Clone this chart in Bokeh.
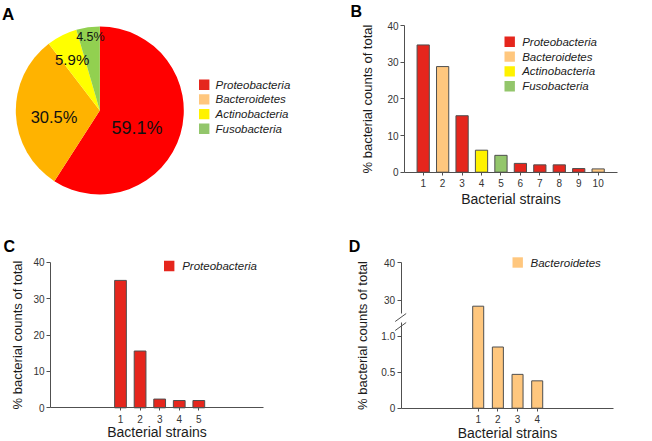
import math
from bokeh.plotting import figure
from bokeh.models import Range1d, FixedTicker, CustomJSTickFormatter, ColumnDataSource, LinearAxis
from bokeh.layouts import gridplot
from bokeh.embed import file_html
from bokeh.resources import INLINE
from bokeh.core.properties import value

FONT = "Liberation Sans"
TEXT = "#1c1c1c"
AXIS = "#505050"
TICKTXT = "#333333"
BAR_LINE = "#4f4f4f"

# ---------------- data ----------------
phyla = ["Proteobacteria", "Bacteroidetes", "Actinobacteria", "Fusobacteria"]
phylum_pct = [59.1, 30.5, 5.9, 4.5]
pie_labels = ["59.1%", "30.5%", "5.9%", "4.5%"]

top10_strains = [1, 2, 3, 4, 5, 6, 7, 8, 9, 10]
top10_pct = [34.7, 28.8, 15.4, 6.0, 4.6, 2.4, 2.0, 2.0, 1.0, 0.9]
top10_phylum = ["Proteobacteria", "Bacteroidetes", "Proteobacteria", "Actinobacteria",
                "Fusobacteria", "Proteobacteria", "Proteobacteria", "Proteobacteria",
                "Proteobacteria", "Bacteroidetes"]

proteo_strains = [1, 2, 3, 4, 5]
proteo_pct = [35.0, 15.6, 2.4, 2.0, 2.0]

bactero_strains = [1, 2, 3, 4]
bactero_pct = [28.4, 0.85, 0.47, 0.38]

yticks_main = [0, 10, 20, 30, 40]
yticks_low = [0, 0.5, 1.0]
yticks_low_labels = ["0", "0.5", "1.0"]
yticks_high = [30, 40]
yticks_high_labels = ["30", "40"]

ylabel = "% bacterial counts of total"
xlabel = "Bacterial strains"

# ---------------- styles ----------------
pie_colors = ["#FF0000", "#FFB300", "#FFFF00", "#92D050"]
key_colors = ["#E5261D", "#FFC77E", "#FFF200", "#93C66B"]
phylum_color = dict(zip(phyla, key_colors))
pie_label_sizes = ["18px", "16.5px", "15px", "12.5px"]
pie_label_rfrac = [0.49, 0.55, 0.69, 0.88]
pie_label_nudge_deg = [-9.0, 5.6, 1.7, -0.8]


def new_fig(W, H, xr, yr, axes=True):
    kw = {}
    if not axes:
        kw = dict(x_axis_type=None, y_axis_type=None)
    p = figure(width=W, height=H, x_range=xr, y_range=yr, output_backend="svg",
               toolbar_location=None, tools="", **kw)
    p.min_border_left = p.min_border_right = p.min_border_top = p.min_border_bottom = 0
    p.outline_line_color = None
    p.background_fill_color = "white"
    p.border_fill_color = "white"
    if axes:
        p.xgrid.visible = False
        p.ygrid.visible = False
    p.extra_x_ranges = {"px": Range1d(0, W)}
    p.extra_y_ranges = {"px": Range1d(H, 0)}
    return p


def style_axis(ax):
    ax.axis_line_color = AXIS
    ax.axis_line_width = 1
    ax.major_tick_line_color = AXIS
    ax.major_tick_in = 0
    ax.minor_tick_line_color = None
    ax.major_label_text_font = FONT
    ax.major_label_text_font_size = "10px"
    ax.major_label_text_color = TICKTXT
    ax.axis_label_text_font = FONT
    ax.axis_label_text_font_style = "normal"
    ax.axis_label_text_color = TEXT


def letter(p, s, x, y, size="16px"):
    p.text(x=[x], y=[y], text=[s], x_range_name="px", y_range_name="px",
           text_font=value(FONT), text_font_style="bold", text_font_size=size,
           text_color="#000000", text_baseline="alphabetic", text_align="left")


def legend(p, names, colors, sx, sy, pitch, text_x, sq=10.4, size="11.5px"):
    ys = [sy + i * pitch for i in range(len(names))]
    p.rect(x=[sx] * len(names), y=ys, width=sq, height=sq, fill_color=colors,
           line_color=None, x_range_name="px", y_range_name="px")
    p.text(x=[text_x] * len(names), y=ys, text=names, x_range_name="px", y_range_name="px",
           text_font=value(FONT), text_font_style="italic", text_font_size=size,
           text_color=TEXT, text_baseline="middle", text_align="left")


# ---------------- panel A: pie ----------------
WA, HA = 330, 210
pA = new_fig(WA, HA, Range1d(0, WA), Range1d(0, HA), axes=False)
cx, cy, R = 99.3, HA - 110.0, 84.0
tot = sum(phylum_pct)
starts, ends, lx, ly = [], [], [], []
cum = 0.0
for i, v in enumerate(phylum_pct):
    a0 = math.pi / 2 - 2 * math.pi * cum / tot
    cum += v
    a1 = math.pi / 2 - 2 * math.pi * cum / tot
    starts.append(a0)
    ends.append(a1)
    mid = (a0 + a1) / 2 + math.radians(pie_label_nudge_deg[i])
    lx.append(cx + pie_label_rfrac[i] * R * math.cos(mid))
    ly.append(cy + pie_label_rfrac[i] * R * math.sin(mid))
pie_src = ColumnDataSource(dict(start=starts, end=ends, color=pie_colors, lx=lx, ly=ly,
                                label=pie_labels, fs=pie_label_sizes))
pA.wedge(x=cx, y=cy, radius=R, radius_units="screen", start_angle="start", end_angle="end",
         direction="clock", fill_color="color", line_color=None, source=pie_src)
pA.text(x="lx", y="ly", text="label", text_font_size="fs", source=pie_src,
        text_font=value(FONT), text_color="#111111", text_align="center", text_baseline="middle")
legend(pA, phyla, key_colors, 203.7, 84.2, 14.7, 215.0)
letter(pA, "A", 1.5, 14.0, "17px")


# ---------------- bar panel helper ----------------
def bar_panel(W, H, g, strains, vals, colors, bar_w, xlab_standoff=0, ylab_standoff=9):
    xs = 1 - g["x1"] / g["xu"]
    xe = xs + W / g["xu"]
    ys = -(H - g["y0"]) / g["yu"]
    ye = g["y0"] / g["yu"]
    p = new_fig(W, H, Range1d(xs, xe), Range1d(ys, ye))
    ax_x = xs + g["axis_x"] / g["xu"]
    ax_end = xs + g["axis_x_end"] / g["xu"]
    src = ColumnDataSource(dict(x=strains, top=vals, color=colors))
    p.vbar(x="x", top="top", bottom=0, width=bar_w, fill_color="color",
           line_color=BAR_LINE, line_width=1, source=src)
    xa = p.xaxis[0]
    style_axis(xa)
    xa.fixed_location = 0
    xa.bounds = (ax_x, ax_end)
    xa.ticker = FixedTicker(ticks=strains)
    xa.major_tick_out = 3
    xa.major_label_standoff = 4
    xa.axis_label = xlabel
    xa.axis_label_text_font_size = "14px"
    xa.axis_label_standoff = xlab_standoff
    ya = p.yaxis[0]
    style_axis(ya)
    ya.fixed_location = ax_x
    ya.major_tick_out = 4
    ya.major_label_standoff = 2
    ya.axis_label = ylabel
    ya.axis_label_text_font_size = "13px"
    ya.axis_label_standoff = ylab_standoff
    return p, ya, ax_x


# ---------------- panel B ----------------
GB = dict(x1=92.7, xu=19.44, y0=171.7, yu=3.6675, axis_x=74.0, axis_x_end=287.3)
pB, yaB, _ = bar_panel(322, 210, GB, top10_strains, top10_pct,
                       [phylum_color[k] for k in top10_phylum], 0.63, xlab_standoff=0)
yaB.ticker = FixedTicker(ticks=yticks_main)
yaB.bounds = (0, 40)
legend(pB, phyla, key_colors, 179.2, 41.3, 14.8, 191.7)
letter(pB, "B", 20.0, 11.0)

# ---------------- panel C ----------------
GC = dict(x1=120.0, xu=19.58, y0=197.3, yu=3.64, axis_x=50.0, axis_x_end=262.7)
pC, yaC, _ = bar_panel(330, 231, GC, proteo_strains, proteo_pct,
                       [phylum_color["Proteobacteria"]] * len(proteo_pct), 0.6,
                       xlab_standoff=-2, ylab_standoff=5)
yaC.ticker = FixedTicker(ticks=yticks_main)
yaC.bounds = (0, 40)
legend(pC, ["Proteobacteria"], [phylum_color["Proteobacteria"]], 168.7, 55.5, 14.8, 181.7)
letter(pC, "C", 3.0, 35.5)

# ---------------- panel D (broken axis) ----------------
LOW_MAX = 1.2
HIGH_BASE = 1.5
HIGH_SCALE = 0.052


def d_disp(v):
    return v if v <= LOW_MAX else HIGH_BASE + (v - 30) * HIGH_SCALE


GD = dict(x1=147.7, xu=19.67, y0=197.7, yu=72.0, axis_x=70.7, axis_x_end=283.3)
pD, yaD, axD = bar_panel(322, 231, GD, bactero_strains, [d_disp(v) for v in bactero_pct],
                         [phylum_color["Bacteroidetes"]] * len(bactero_pct), 0.56,
                         xlab_standoff=-2, ylab_standoff=9)
d_tick_pos = [d_disp(v) for v in yticks_low] + [d_disp(v) for v in yticks_high]
d_tick_lab = yticks_low_labels + yticks_high_labels
yaD.ticker = FixedTicker(ticks=d_tick_pos)
yaD.formatter = CustomJSTickFormatter(args=dict(pos=d_tick_pos, lab=d_tick_lab), code="""
    const i = pos.indexOf(tick);
    return i >= 0 ? lab[i] : "";
""")
yaD.bounds = (0, d_tick_pos[-1])
yaD.axis_line_color = None

low_top = (GD["y0"] - 112.0) / GD["yu"]
high_bot = (GD["y0"] - 103.0) / GD["yu"]
for b in [(0, low_top), (high_bot, d_tick_pos[-1])]:
    seg = LinearAxis(fixed_location=axD, bounds=b, ticker=FixedTicker(ticks=[]))
    style_axis(seg)
    seg.major_tick_out = 0
    seg.major_label_text_font_size = "0px"
    pD.add_layout(seg, "left")

# break marks
bx = GD["axis_x"]
brk_y = [GD["y0"] - high_bot * GD["yu"], GD["y0"] - low_top * GD["yu"]]
pD.segment(x0=[bx - 6] * 2, y0=[y + 8 for y in brk_y], x1=[bx + 5] * 2, y1=brk_y,
           line_color=AXIS, line_width=1, x_range_name="px", y_range_name="px")
legend(pD, ["Bacteroidetes"], [phylum_color["Bacteroidetes"]], 187.2, 52.0, 14.8, 200.0)
letter(pD, "D", 18.3, 35.5)

grid = gridplot([[pA, pB], [pC, pD]], toolbar_location=None)
grid.styles = {"position": "absolute", "left": "0px", "top": "0px"}

open("out.html", "w").write(file_html(grid, INLINE))
